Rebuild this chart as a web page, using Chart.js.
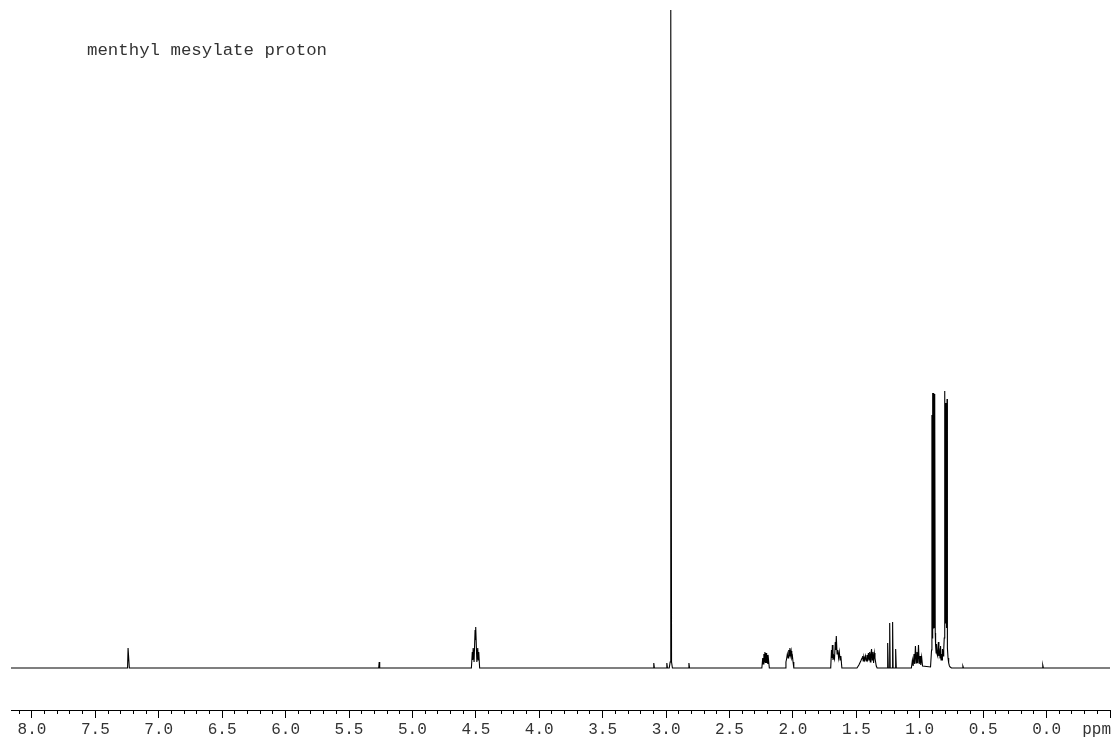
<!DOCTYPE html>
<html>
<head>
<meta charset="utf-8">
<script src="https://cdn.jsdelivr.net/npm/chart.js@4"></script>
<style>
  body { margin: 0; background: #fff; }
  canvas { display: block; }
</style>
</head>
<body>
<canvas id="spectrum" width="1115" height="742"></canvas>
<script>
// trace: chemical shift (ppm) and intensity (arbitrary units)
const shift = [
  8.165, 7.246, 7.242, 7.236, 7.232, 5.266, 5.262, 5.258,
  4.535, 4.528, 4.525, 4.521, 4.514, 4.506, 4.503, 4.499, 4.492, 4.485, 4.481, 4.477, 4.470,
  3.102, 3.097, 3.092, 2.999, 2.994, 2.989,
  2.975, 2.968, 2.964, 2.962, 2.957, 2.950,
  2.825, 2.820, 2.815,
  2.245, 2.238, 2.234, 2.229, 2.225, 2.221, 2.216, 2.212, 2.207, 2.203, 2.198, 2.193, 2.186,
  2.062, 2.055, 2.050, 2.044, 2.038, 2.033, 2.028, 2.024, 2.019, 2.014, 2.009, 2.004, 1.999, 1.993,
  1.702, 1.696, 1.692, 1.689, 1.684, 1.678, 1.672, 1.666, 1.662, 1.658, 1.652, 1.646, 1.640, 1.634, 1.628, 1.622, 1.614,
  1.495, 1.480, 1.465, 1.455, 1.450, 1.446, 1.440, 1.434, 1.428, 1.422, 1.416, 1.410, 1.405, 1.400,
  1.395, 1.390, 1.385, 1.380, 1.375, 1.369, 1.364, 1.358, 1.353, 1.348, 1.343, 1.336,
  1.258, 1.253, 1.248, 1.241, 1.237, 1.233, 1.218, 1.214, 1.210, 1.195, 1.190, 1.185,
  1.066, 1.058, 1.052, 1.045, 1.040, 1.034, 1.028, 1.022, 1.016, 1.010, 1.004, 0.998, 0.992, 0.985, 0.978,
  0.915, 0.907, 0.904, 0.902, 0.900, 0.898, 0.896, 0.894, 0.892, 0.890, 0.888, 0.886, 0.884, 0.882,
  0.880, 0.878, 0.875, 0.871, 0.868, 0.864, 0.861, 0.857, 0.853,
  0.849, 0.844, 0.840, 0.836, 0.832, 0.828, 0.824, 0.821, 0.816, 0.811, 0.807,
  0.805, 0.803, 0.801, 0.799, 0.797, 0.795, 0.793, 0.791, 0.789, 0.787, 0.785, 0.783, 0.781,
  0.777, 0.772, 0.766, 0.760, 0.750,
  0.665, 0.660, 0.655, 0.035, 0.030, 0.025, -0.500
];
const intensity = [
  0, 0, 20, 20, 0, 0, 6, 0,
  0, 16, 8, 20, 6, 38, 28, 41, 6, 20, 8, 16, 0,
  0, 5, 0, 0, 5, 0,
  0, 6, 658, 658, 6, 0,
  0, 5, 0,
  0, 10, 4, 14, 6, 16, 5, 15, 5, 13, 4, 9, 0,
  0, 6, 9, 14, 10, 18, 12, 20, 13, 17, 10, 12, 6, 0,
  0, 18, 10, 23, 8, 12, 9, 26, 18, 32, 14, 18, 10, 16, 8, 12, 0,
  0, 3, 7, 10, 12, 7, 11, 8, 12, 7, 13, 9, 15, 8,
  16, 6, 14, 19, 8, 16, 5, 15, 10, 6, 2, 0,
  0, 25, 0, 0, 45, 0, 0, 46, 0, 0, 19, 0,
  0, 8, 2, 14, 4, 22, 5, 16, 5, 23, 4, 12, 3, 11, 2,
  1, 18, 253, 30, 258, 40, 275, 40, 270, 50, 275, 50, 270, 40,
  274, 35, 22, 15, 24, 14, 18, 12, 26,
  12, 16, 10, 22, 8, 14, 8, 19, 12, 18, 30,
  250, 40, 277, 45, 265, 50, 260, 45, 265, 40, 269, 35, 20,
  10, 5, 2, 1, 0,
  0, 2, 0, 0, 3, 0, 0
];
const majorLabels = ['8.0', '7.5', '7.0', '6.5', '6.0', '5.5', '5.0', '4.5',
  '4.0', '3.5', '3.0', '2.5', '2.0', '1.5', '1.0', '0.5', '0.0'];
const title = 'menthyl mesylate proton';

const monoFont = '"Liberation Mono", "Courier New", monospace';

function isMajor(v) {
  return Math.abs(v * 2 - Math.round(v * 2)) < 1e-6;
}

// title text and the "ppm" unit label
const textPlugin = {
  id: 'texts',
  afterDraw(chart) {
    const ctx = chart.ctx;
    const x = chart.scales.x;
    ctx.save();
    ctx.fillStyle = '#333';
    ctx.font = '17.4px ' + monoFont;
    ctx.textBaseline = 'middle';
    ctx.textAlign = 'left';
    ctx.fillText(title, 87, 50);
    ctx.font = '16px ' + monoFont;
    ctx.textAlign = 'right';
    ctx.fillText('ppm', x.getPixelForValue(-0.5) + 1, 730);
    ctx.restore();
  }
};

new Chart(document.getElementById('spectrum'), {
  type: 'line',
  data: {
    datasets: [{
      data: shift.map((s, i) => ({ x: s, y: intensity[i] })),
      borderColor: '#000',
      borderWidth: 1.1,
      pointRadius: 0,
      tension: 0,
      fill: false
    }]
  },
  options: {
    responsive: false,
    animation: false,
    layout: { padding: { left: 11, right: 5, top: 10, bottom: 0 } },
    plugins: { legend: { display: false }, tooltip: { enabled: false } },
    scales: {
      x: {
        type: 'linear',
        reverse: true,
        min: -0.5,
        max: 8.165,
        border: { color: '#000', width: 1 },
        grid: {
          drawOnChartArea: false,
          tickLength: 8,
          tickColor: '#000',
          tickWidth: 1,
          tickBorderDash: (ctx) => (ctx.tick && isMajor(ctx.tick.value)) ? [] : [3, 30]
        },
        ticks: {
          stepSize: 0.1,
          autoSkip: false,
          includeBounds: false,
          maxRotation: 0,
          padding: 4,
          color: '#333',
          font: { family: monoFont, size: 16, lineHeight: 1 },
          callback: (v) => {
            const s = Math.abs(v) < 1e-9 ? '0.0' : v.toFixed(1);
            return majorLabels.includes(s) ? s : '';
          }
        }
      },
      y: {
        display: false,
        min: -42,
        max: 658
      }
    }
  },
  plugins: [textPlugin]
});
</script>
</body>
</html>
